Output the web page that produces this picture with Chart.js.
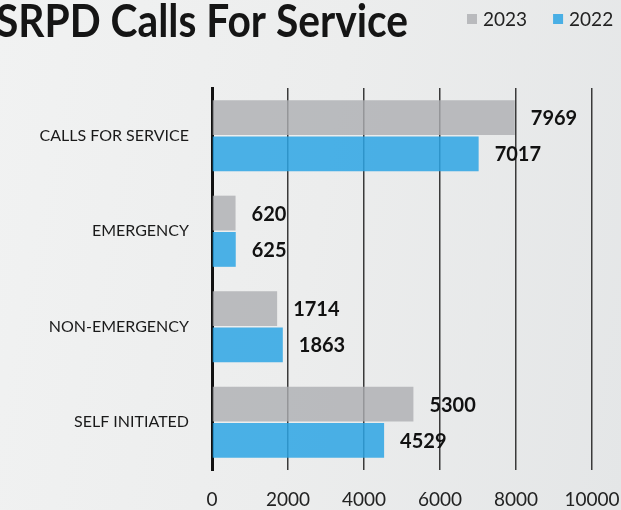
<!DOCTYPE html>
<html>
<head>
<meta charset="utf-8">
<script src="https://cdn.jsdelivr.net/npm/chart.js@4"></script>
<style>
  html, body { margin: 0; padding: 0; overflow: hidden; }
  body { background: linear-gradient(100deg, #f1f2f2 0%, #eceded 50%, #e4e6e7 100%); }
  #wrap { position: relative; width: 621px; height: 510px; }
</style>
</head>
<body>
<div id="wrap"><canvas id="chart" width="621" height="510"></canvas></div>
<script>
const categories = ['CALLS FOR SERVICE', 'EMERGENCY', 'NON-EMERGENCY', 'SELF INITIATED'];
const calls2023 = [7969, 620, 1714, 5300];
const calls2022 = [7017, 625, 1863, 4529];
const xTicks = [0, 2000, 4000, 6000, 8000, 10000];
const chartTitle = 'SRPD Calls For Service';

// title top-left (cut a little at the edge like the photo) and legend top-right
const headerPlugin = {
    id: 'header',
    afterDraw(chart) {
        const ctx = chart.ctx;
        ctx.save();
        ctx.font = 'bold 45px Lato';
        ctx.fillStyle = '#151515';
        ctx.textBaseline = 'middle';
        const w = ctx.measureText(chartTitle).width;
        ctx.translate(-4, 22);
        ctx.scale(412 / w, 1);
        ctx.fillText(chartTitle, 0, 0);
        ctx.restore();

        ctx.save();
        ctx.font = '19px Lato';
        ctx.textBaseline = 'middle';
        let x = 467;
        chart.data.datasets.forEach(ds => {
            ctx.fillStyle = ds.backgroundColor;
            ctx.fillRect(x, 14, 10, 10);
            ctx.fillStyle = '#222';
            ctx.fillText(ds.label, x + 16, 20);
            x += 16 + ctx.measureText(ds.label).width + 26;
        });
        ctx.restore();
    }
};

// value labels to the right of each bar
const valueLabels = {
    id: 'valueLabels',
    afterDatasetsDraw(chart) {
        const ctx = chart.ctx;
        ctx.save();
        ctx.font = 'bold 20px Lato';
        ctx.fillStyle = '#111';
        ctx.textBaseline = 'middle';
        chart.data.datasets.forEach((ds, i) => {
            chart.getDatasetMeta(i).data.forEach((bar, j) => {
                ctx.fillText(ds.data[j], bar.x + 16, bar.y + 1);
            });
        });
        ctx.restore();
    }
};

new Chart(document.getElementById('chart'), {
    type: 'bar',
    data: {
        labels: categories,
        datasets: [{
            label: '2023',
            data: calls2023,
            backgroundColor: 'rgba(172,174,178,0.8)',
            categoryPercentage: 0.76,
            barPercentage: 0.96
        }, {
            label: '2022',
            data: calls2022,
            backgroundColor: 'rgba(45,165,228,0.85)',
            categoryPercentage: 0.76,
            barPercentage: 0.96
        }]
    },
    options: {
        indexAxis: 'y',
        responsive: false,
        animation: false,
        devicePixelRatio: 1,
        layout: { padding: { top: 88, right: 0, bottom: 0, left: 0 } },
        plugins: {
            legend: { display: false },
            tooltip: { enabled: false }
        },
        scales: {
            x: {
                min: 0,
                max: 10000,
                afterBuildTicks(scale) { scale.ticks = xTicks.map(v => ({ value: v })); },
                afterFit(scale) {
                    scale.height = 40;
                    scale.paddingRight = 29;
                },
                grid: { color: '#3a3a3a', lineWidth: 1.5, drawTicks: false },
                border: { display: false },
                ticks: {
                    color: '#222',
                    padding: 18,
                    font: { family: 'Lato', size: 19 },
                    callback: v => String(v)
                }
            },
            y: {
                afterFit(scale) { scale.width = 212; },
                grid: { display: false },
                border: { color: '#111', width: 3 },
                ticks: { color: '#1a1a1a', padding: 15, font: { family: 'Lato', size: 16 } }
            }
        }
    },
    plugins: [headerPlugin, valueLabels]
});
</script>
</body>
</html>
